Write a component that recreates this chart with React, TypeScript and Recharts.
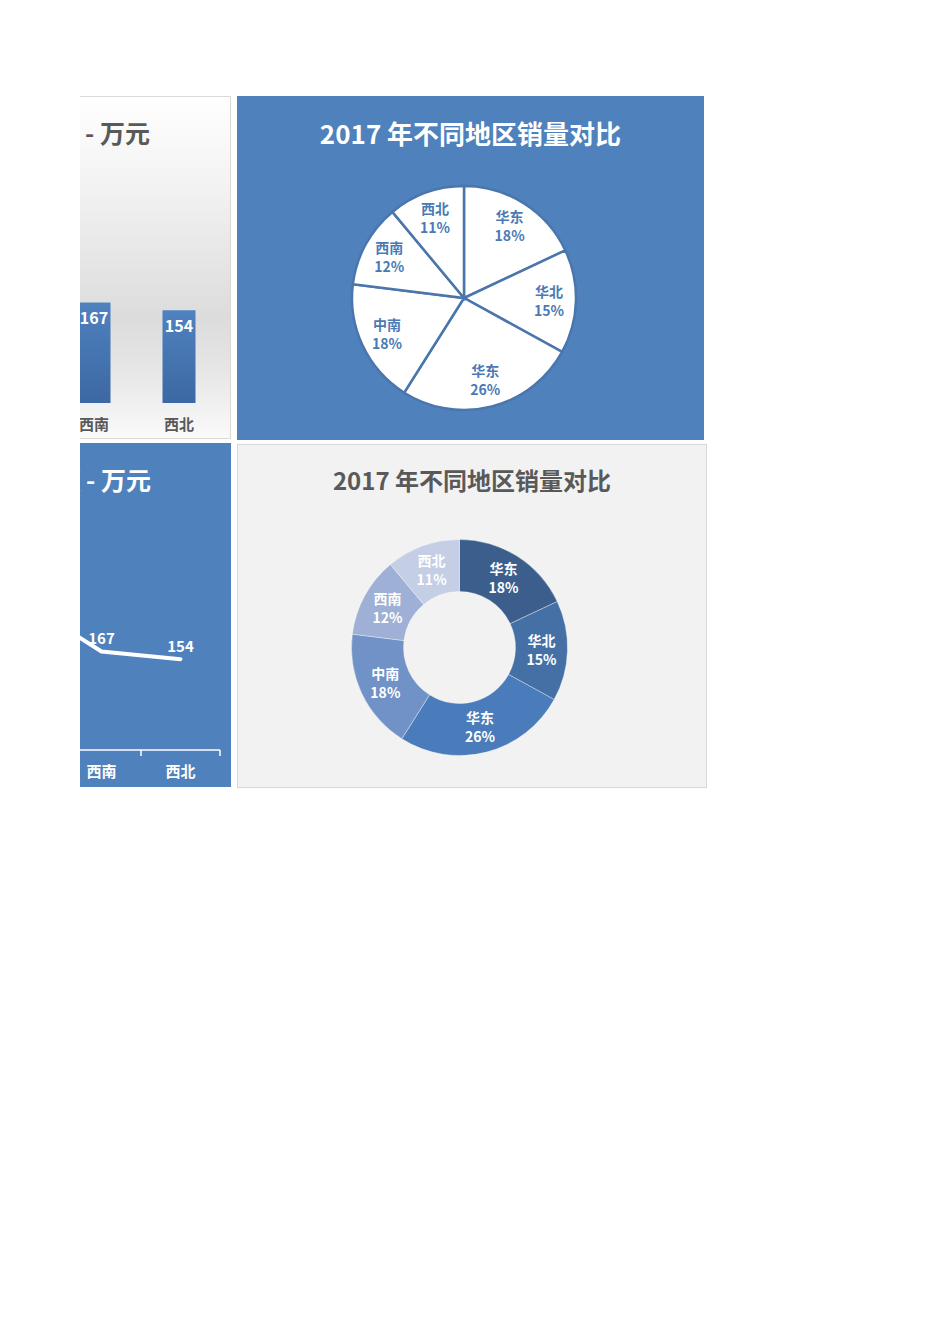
import React from "react";
import {
  BarChart,
  Bar,
  LineChart,
  Line,
  PieChart,
  Pie,
  Cell,
  XAxis,
  YAxis,
  LabelList,
} from "recharts";

// 2017 sales by region (万元); percentages are derived by the pie itself
const regions = ["华东", "华北", "华东", "中南", "西南", "西北"];
const sales = [251, 209, 362, 251, 167, 154];
const donutColors = ["#3b5e8c", "#4470a6", "#4a7bba", "#7192c6", "#9eb0d5", "#c4cee5"];
const valueAxis = [0, 400];

const rows = regions.map((region, i) => ({ region, sales: sales[i] }));

const FONT = '"Noto Sans CJK SC", "Noto Sans", sans-serif';
const RAD = Math.PI / 180;
const NO_MARGIN = { top: 0, right: 0, bottom: 0, left: 0 };

// the line panel spreads 6 categories over a 474px plot
const LINE_W = 525;
const LINE_M = { top: 71, right: 11, bottom: 7, left: 40 };
const halfBand = (LINE_W - LINE_M.left - LINE_M.right) / regions.length / 2;

function LineTick(props: any) {
  const { x, y, payload } = props;
  return (
    <g>
      <line x1={x + halfBand} x2={x + halfBand} y1={y} y2={y + 6} stroke="#fff" strokeWidth={1.5} />
      <text
        x={x}
        y={y + 20.5}
        textAnchor="middle"
        dominantBaseline="central"
        fill="#fff"
        fontSize={15}
        fontWeight={700}
        fontFamily={FONT}
      >
        {payload.value}
      </text>
    </g>
  );
}

function makePieLabel(k: number, color: string) {
  return (props: any) => {
    const { cx, cy, midAngle, innerRadius, outerRadius, percent, index } = props;
    const r = innerRadius + (outerRadius - innerRadius) * k;
    const x = cx + r * Math.cos(-midAngle * RAD);
    const y = cy + r * Math.sin(-midAngle * RAD);
    return (
      <text
        x={x}
        y={y}
        textAnchor="middle"
        fill={color}
        fontSize={14}
        fontWeight={700}
        fontFamily={FONT}
      >
        <tspan x={x} dy={-4}>
          {regions[index]}
        </tspan>
        <tspan x={x} dy={19}>
          {Math.round(percent * 100)}%
        </tspan>
      </text>
    );
  };
}

const titleStyle: React.CSSProperties = {
  position: "absolute",
  fontFamily: FONT,
  fontWeight: 700,
  whiteSpace: "nowrap",
  lineHeight: "30px",
};

export default function App() {
  return (
    <div
      style={{
        position: "absolute",
        left: 0,
        top: 0,
        width: 950,
        height: 1344,
        overflow: "hidden",
        background: "#fff",
        fontFamily: FONT,
      }}
    >
      {/* left column, cut at x=80 */}
      <div style={{ position: "absolute", left: 80, top: 0, width: 160, height: 800, overflow: "hidden" }}>
        {/* bar chart panel */}
        <div
          style={{
            position: "absolute",
            left: -410,
            top: 96,
            width: 561,
            height: 343,
            boxSizing: "border-box",
            border: "1px solid #d9d9d9",
            background:
              "linear-gradient(180deg, #ffffff 0%, #f3f3f3 25%, #dcdcdc 65%, #e6e6e6 80%, #fafafa 100%)",
          }}
        >
          <div style={{ position: "absolute", left: -1, top: -1 }}>
            <BarChart
              width={561}
              height={343}
              data={rows}
              margin={{ top: 66, right: 9.5, bottom: 6, left: 41.5 }}
            >
              <defs>
                <linearGradient id="barFill" x1="0" y1="0" x2="0" y2="1">
                  <stop offset="0%" stopColor="#4f82bf" />
                  <stop offset="100%" stopColor="#3c68a3" />
                </linearGradient>
              </defs>
              <XAxis
                dataKey="region"
                axisLine={false}
                tickLine={false}
                interval={0}
                height={30}
                tickMargin={10}
                tick={{ fill: "#595959", fontSize: 15, fontWeight: 700, fontFamily: FONT }}
              />
              <YAxis hide domain={valueAxis} />
              <Bar dataKey="sales" fill="url(#barFill)" barSize={33} isAnimationActive={false}>
                <LabelList
                  dataKey="sales"
                  position="insideTop"
                  offset={10}
                  fill="#fff"
                  fontSize={16}
                  fontWeight={700}
                  fontFamily={FONT}
                />
              </Bar>
            </BarChart>
          </div>
          <div style={{ ...titleStyle, right: 80, top: 20, fontSize: 25, color: "#595959" }}>
            2017 年不同地区销售额 - 万元
          </div>
        </div>

        {/* line chart panel */}
        <div
          style={{
            position: "absolute",
            left: -374,
            top: 443,
            width: LINE_W,
            height: 344,
            background: "#4f81bd",
          }}
        >
          <LineChart width={LINE_W} height={344} data={rows} margin={LINE_M}>
            <XAxis
              dataKey="region"
              interval={0}
              height={30}
              padding={{ left: halfBand, right: halfBand }}
              axisLine={{ stroke: "#fff", strokeWidth: 1.5 }}
              tickLine={false}
              tickSize={0}
              tickMargin={0}
              tick={<LineTick />}
            />
            <YAxis hide domain={valueAxis} />
            <Line
              dataKey="sales"
              stroke="#fff"
              strokeWidth={4}
              strokeLinecap="round"
              strokeLinejoin="round"
              dot={false}
              isAnimationActive={false}
            >
              <LabelList
                dataKey="sales"
                position="top"
                offset={7}
                fill="#fff"
                fontSize={15}
                fontWeight={700}
                fontFamily={FONT}
              />
            </Line>
          </LineChart>
          <div style={{ ...titleStyle, right: 80, top: 21, fontSize: 25, color: "#fff" }}>
            2017 年不同地区销售额 - 万元
          </div>
        </div>
      </div>

      {/* pie panel */}
      <div
        style={{
          position: "absolute",
          left: 237,
          top: 96,
          width: 467,
          height: 344,
          background: "#4f81bd",
        }}
      >
        <PieChart width={467} height={344} margin={NO_MARGIN}>
          <Pie
            data={rows}
            dataKey="sales"
            nameKey="region"
            cx={227}
            cy={202}
            outerRadius={112}
            startAngle={90}
            endAngle={-270}
            stroke="#4a76ad"
            strokeWidth={2.5}
            labelLine={false}
            label={makePieLabel(0.76, "#4a7ab5")}
            isAnimationActive={false}
          >
            {rows.map((_, i) => (
              <Cell key={i} fill="#ffffff" />
            ))}
          </Pie>
        </PieChart>
        <div style={{ ...titleStyle, left: 0, width: 467, textAlign: "center", top: 22, fontSize: 26, color: "#fff" }}>
          2017 年不同地区销量对比
        </div>
      </div>

      {/* donut panel */}
      <div
        style={{
          position: "absolute",
          left: 237,
          top: 444,
          width: 470,
          height: 344,
          boxSizing: "border-box",
          border: "1px solid #d9d9d9",
          background: "#f2f2f2",
        }}
      >
        <div style={{ position: "absolute", left: -1, top: -1 }}>
          <PieChart width={470} height={344} margin={NO_MARGIN}>
            <Pie
              data={rows}
              dataKey="sales"
              nameKey="region"
              cx={222.5}
              cy={203.5}
              innerRadius={56}
              outerRadius={108}
              startAngle={90}
              endAngle={-270}
              stroke="rgba(255,255,255,0.35)"
              strokeWidth={1}
              labelLine={false}
              label={makePieLabel(0.5, "#ffffff")}
              isAnimationActive={false}
            >
              {rows.map((_, i) => (
                <Cell key={i} fill={donutColors[i]} />
              ))}
            </Pie>
          </PieChart>
        </div>
        <div style={{ ...titleStyle, left: -1, width: 470, textAlign: "center", top: 20, fontSize: 24, color: "#595959" }}>
          2017 年不同地区销量对比
        </div>
      </div>
    </div>
  );
}
